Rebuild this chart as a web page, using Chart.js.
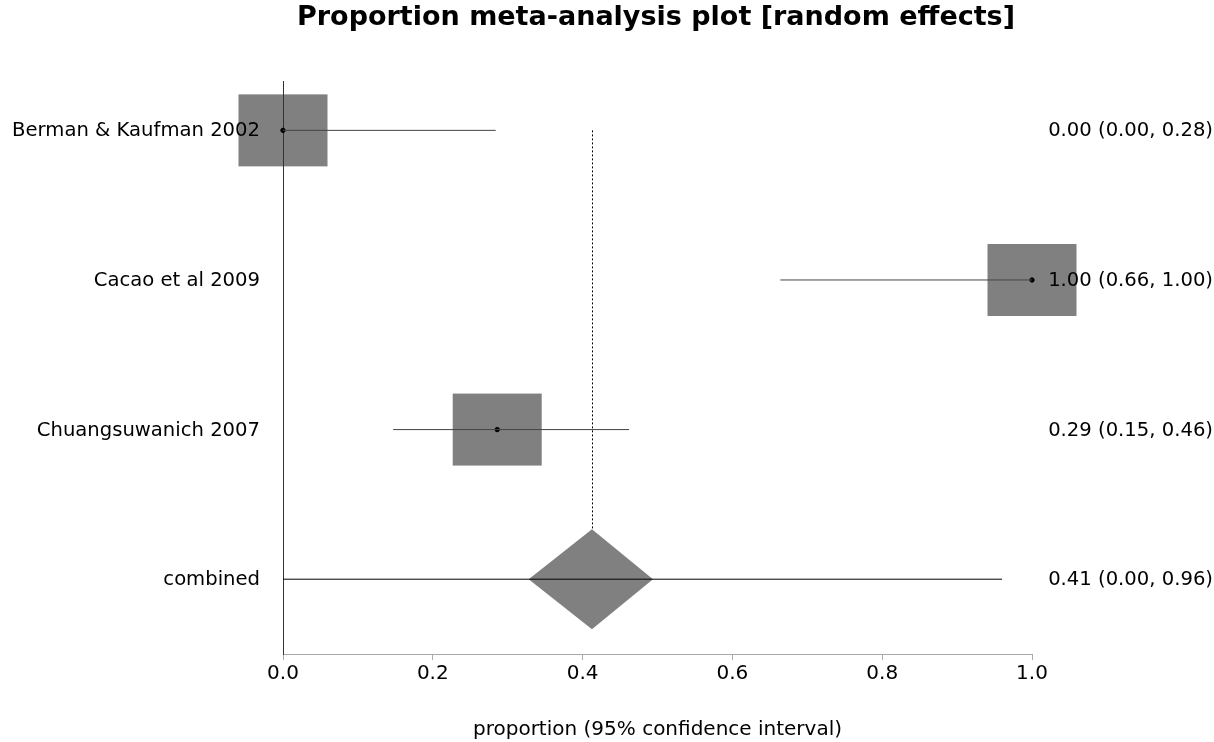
<!DOCTYPE html>
<html>
<head>
<meta charset="utf-8">
<script src="https://cdn.jsdelivr.net/npm/chart.js@4.4.1/dist/chart.umd.min.js"></script>
<style>
  html, body { margin: 0; padding: 0; background: #fff; }
  #wrap { width: 1214px; height: 742px; }
</style>
</head>
<body>
<div id="wrap"><canvas id="forest"></canvas></div>
<script>
// ==================== DATOS ====================
const studies = ['Berman & Kaufman 2002', 'Cacao et al 2009', 'Chuangsuwanich 2007', 'combined'];
const rows = [4, 3, 2, 1];
const estimates = [0.00, 1.00, 0.286, 0.4125];
const lowerCI = [0.00, 0.664, 0.147, 0.00];
const upperCI = [0.284, 1.00, 0.462, 0.96];
const pooledDiamond = [0.328, 0.494];
const estLabels = ['0.00 (0.00, 0.28)', '1.00 (0.66, 1.00)', '0.29 (0.15, 0.46)', '0.41 (0.00, 0.96)'];
const xTicks = [0.0, 0.2, 0.4, 0.6, 0.8, 1.0];

// ==================== ESTILOS ====================
const FONT = '"DejaVu Sans", Verdana, sans-serif';
const GRIS = '#808080';
const CAJA_W = 89, CAJA_H = 72, DIAMANTE_H = 50;

// ==================== PLUGIN FOREST ====================
const forestPlugin = {
    id: 'forest',
    beforeDraw(chart) {
        const { ctx, scales: { x, y } } = chart;
        ctx.save();
        ctx.fillStyle = GRIS;
        // cajas de cada estudio
        for (let i = 0; i < studies.length - 1; i++) {
            const px = x.getPixelForValue(estimates[i]);
            const py = y.getPixelForValue(rows[i]);
            ctx.fillRect(px - CAJA_W / 2, py - CAJA_H / 2, CAJA_W, CAJA_H);
        }
        // diamante combinado
        const last = studies.length - 1;
        const cx = x.getPixelForValue(estimates[last]);
        const cy = y.getPixelForValue(rows[last]);
        ctx.beginPath();
        ctx.moveTo(x.getPixelForValue(pooledDiamond[0]), cy);
        ctx.lineTo(cx, cy - DIAMANTE_H);
        ctx.lineTo(x.getPixelForValue(pooledDiamond[1]), cy);
        ctx.lineTo(cx, cy + DIAMANTE_H);
        ctx.closePath();
        ctx.fill();
        ctx.restore();
    },
    afterDatasetsDraw(chart) {
        const { ctx, scales: { x, y } } = chart;
        const last = studies.length - 1;
        const cx = Math.round(x.getPixelForValue(estimates[last])) + 0.5;
        ctx.save();
        // linea punteada del efecto combinado
        ctx.strokeStyle = '#000';
        ctx.lineWidth = 1;
        ctx.setLineDash([2, 2]);
        ctx.beginPath();
        ctx.moveTo(cx, y.getPixelForValue(rows[0]));
        ctx.lineTo(cx, y.getPixelForValue(rows[last]) - DIAMANTE_H);
        ctx.stroke();
        ctx.restore();
    },
    afterDraw(chart) {
        const { ctx, scales: { y } } = chart;
        ctx.save();
        ctx.fillStyle = '#000';
        ctx.textBaseline = 'middle';
        ctx.font = '19.6px ' + FONT;
        studies.forEach((s, i) => {
            const py = y.getPixelForValue(rows[i]) + 1;
            ctx.textAlign = 'right';
            ctx.fillText(s, 260, py);
            ctx.fillText(estLabels[i], 1213, py);
        });
        // titulo
        ctx.textAlign = 'center';
        ctx.font = 'bold 27px ' + FONT;
        ctx.fillText('Proportion meta-analysis plot [random effects]', 656, 18);
        ctx.restore();
    }
};

// ==================== DATASETS ====================
const lineasIC = studies.map((s, i) => ({
    type: 'line',
    label: s,
    data: [{ x: lowerCI[i], y: rows[i] }, { x: upperCI[i], y: rows[i] }],
    borderColor: i === studies.length - 1 ? '#000' : '#444',
    borderWidth: 1,
    pointRadius: 0,
    clip: false
}));

const puntos = {
    type: 'scatter',
    label: 'estimaciones',
    data: estimates.slice(0, -1).map((e, i) => ({ x: e, y: rows[i] })),
    backgroundColor: '#000',
    borderColor: '#000',
    pointRadius: 2.2,
    clip: false
};

new Chart(document.getElementById('forest'), {
    type: 'scatter',
    data: { datasets: [...lineasIC, puntos] },
    options: {
        responsive: true,
        maintainAspectRatio: false,
        animation: false,
        layout: { padding: { left: 0, right: 182, top: 81, bottom: 0 } },
        plugins: {
            legend: { display: false },
            title: { display: false },
            tooltip: { enabled: false }
        },
        scales: {
            x: {
                type: 'linear',
                min: 0,
                max: 1,
                afterFit: (scale) => { scale.height = 88; },
                afterBuildTicks: (scale) => { scale.ticks = xTicks.map(v => ({ value: v })); },
                ticks: {
                    color: '#000',
                    font: { family: FONT, size: 20 },
                    padding: 2,
                    maxRotation: 0,
                    callback: (v) => Number(v).toFixed(1)
                },
                grid: { display: true, drawOnChartArea: false, drawTicks: true, tickLength: 6, color: '#aaa' },
                border: { display: true, color: '#aaa', width: 1 },
                title: {
                    display: true,
                    text: 'proportion (95% confidence interval)',
                    color: '#000',
                    font: { family: FONT, size: 20 },
                    padding: { top: 0, bottom: 0 }
                }
            },
            y: {
                type: 'linear',
                min: 0.5,
                max: 4.33,
                afterFit: (scale) => { scale.width = 283; },
                ticks: { display: false },
                grid: { display: false },
                border: { display: true, color: '#333', width: 1 }
            }
        }
    },
    plugins: [forestPlugin]
});
</script>
</body>
</html>
